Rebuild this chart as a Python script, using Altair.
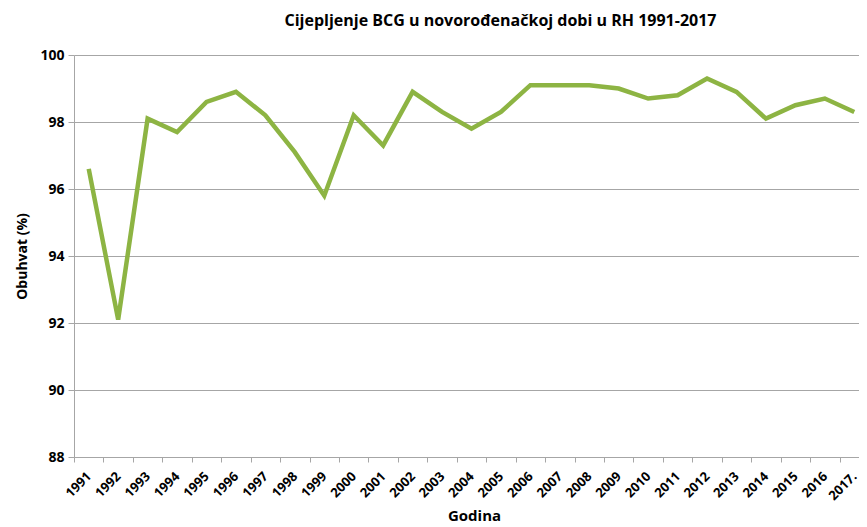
import altair as alt
import pandas as pd

years = ["1991", "1992", "1993", "1994", "1995", "1996", "1997", "1998", "1999",
         "2000", "2001", "2002", "2003", "2004", "2005", "2006", "2007", "2008",
         "2009", "2010", "2011", "2012", "2013", "2014", "2015", "2016", "2017."]
coverage = [96.6, 92.1, 98.1, 97.7, 98.6, 98.9, 98.2, 97.1, 95.8,
            98.2, 97.3, 98.9, 98.3, 97.8, 98.3, 99.1, 99.1, 99.1,
            99.0, 98.7, 98.8, 99.3, 98.9, 98.1, 98.5, 98.7, 98.3]
y_ticks = [88, 90, 92, 94, 96, 98, 100]

df = pd.DataFrame({"Godina": years, "Obuhvat": coverage})
FONT = "Open Sans"

chart = alt.Chart(df).mark_line(color="#8db443", strokeWidth=4.5, strokeJoin="miter").encode(
    x=alt.X("Godina:N", sort=years,
            scale=alt.Scale(range=[0, 795], paddingInner=0, paddingOuter=0),
            axis=alt.Axis(title="Godina", labelAngle=-45, labelAlign="right",
                          labelBaseline="middle", labelPadding=12,
                          tickBand="extent", grid=False,
                          domainColor="#a6a6a6", tickColor="#a6a6a6", tickSize=5,
                          labelFont=FONT, labelFontSize=13, labelFontWeight="bold",
                          labelColor="#000000",
                          titleFont=FONT, titleFontSize=15, titleFontWeight="bold",
                          titleColor="#000000", titlePadding=6, titleX=400)),
    y=alt.Y("Obuhvat:Q", scale=alt.Scale(domain=[88, 100], nice=False, zero=False),
            axis=alt.Axis(title="Obuhvat (%)", values=y_ticks,
                          grid=True, gridColor="#a6a6a6", gridWidth=1,
                          domainColor="#a6a6a6", tickColor="#a6a6a6", tickSize=6,
                          labelFont=FONT, labelFontSize=14, labelFontWeight="bold",
                          labelColor="#000000", labelPadding=4,
                          titleFont=FONT, titleFontSize=14, titleFontWeight="bold",
                          titleColor="#000000", titlePadding=10)),
).properties(
    width=785, height=402,
    title=alt.TitleParams("Cijepljenje BCG u novorođenačkoj dobi u RH 1991-2017",
                          font=FONT, fontSize=16, fontWeight="bold", color="#000000",
                          anchor="middle", offset=19, dx=34),
    autosize=alt.AutoSizeParams(type="none"),
    padding={"left": 66, "top": 47, "right": 0, "bottom": 70},
).configure_view(stroke=None)

chart.save("out.html", embed_options={"renderer": "svg", "actions": False})
